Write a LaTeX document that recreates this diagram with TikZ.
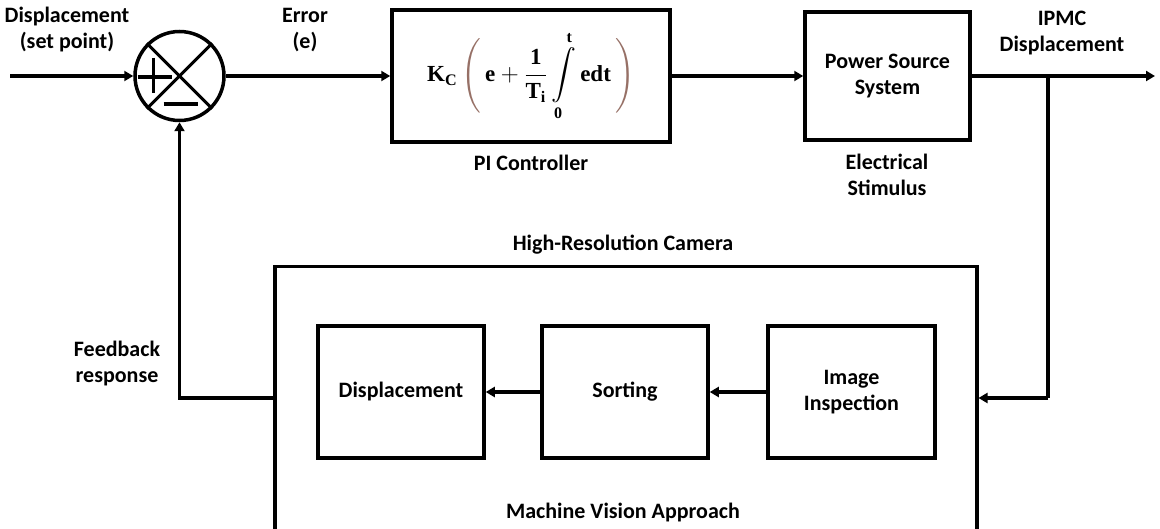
\documentclass[tikz,border=0pt]{standalone}
\usepackage{amsmath}
\usepackage{fontspec}
\setmainfont{Carlito}
\setmathrm{Liberation Serif}
\usetikzlibrary{arrows.meta}
\definecolor{parcol}{RGB}{150,112,102}
\newcommand{\pieqn}{\mbox{\fontsize{23}{27}\selectfont$\displaystyle \mathbf{K}_{\mathbf{C}}\,{\color{parcol}\Bigg(}\,\mathbf{e}+\frac{\mathbf 1}{\mathbf{T}_{\mathbf{i}}}\int\limits_{\mathbf 0}^{\mathbf t}\mathbf{edt}\,{\color{parcol}\Bigg)}$}}
\begin{document}
\begin{tikzpicture}[x=1pt,y=-1pt,
  thick line/.style={line width=3.5pt},
  arr/.style={thick line,-{Triangle[length=9pt,width=10pt]}},
  blk/.style={draw,thick line,rectangle,inner sep=0pt,font=\fontsize{22}{26}\selectfont\bfseries,align=center},
  lbl/.style={font=\fontsize{22}{26}\selectfont\bfseries,align=center,inner sep=0pt}]
\useasboundingbox (0,0) rectangle (1160,529);
\clip (0,0) rectangle (1160,529);
% summing junction
\node[draw,thick line,circle,minimum size=89pt,inner sep=0pt] (sum) at (179.5,76) {};
\draw[line width=3pt] (sum.north west) -- (sum.south east);
\draw[line width=3pt] (sum.north east) -- (sum.south west);
\draw[line width=3.5pt] ([shift={(-42,1)}]sum.center) -- ([shift={(-8,1)}]sum.center);
\draw[line width=3.5pt] ([shift={(-26,-18)}]sum.center) -- ([shift={(-26,17)}]sum.center);
\draw[line width=3.5pt] ([shift={(-16,28)}]sum.center) -- ([shift={(18,28)}]sum.center);
% blocks
\node[blk,minimum width=278pt,minimum height=132pt] (pi) at (531,76) {\pieqn};
\node[blk,minimum width=165pt,minimum height=128pt] (pwr) at (887.5,76) {Power Source\\System};
\node[draw,thick line,rectangle,minimum width=702pt,minimum height=300pt,anchor=north west,inner sep=0pt] (cam) at (273,265) {};
\node[blk,minimum width=166pt,minimum height=132pt] (disp) at (401,392) {Displacement};
\node[blk,minimum width=166pt,minimum height=132pt] (sort) at (625,392) {Sorting};
\node[blk,minimum width=167pt,minimum height=132pt] (insp) at (851.5,392) {Image\\Inspection};
% labels
\node[lbl] (l1) at (67,30) {Displacement\\(set point)};
\node[lbl] (l2) at (305,30) {Error\\(e)};
\node[lbl] (l3) at (531,163) {PI Controller};
\node[lbl] (l4) at (887,175) {Electrical\\Stimulus};
\node[lbl] (l5) at (1062,33) {IPMC\\Displacement};
\node[lbl] (l6) at (623,245) {High-Resolution Camera};
\node[lbl] (l7) at (623,513) {Machine Vision Approach};
\node[lbl] (l8) at (117,364) {Feedback\\response};
% coordinates
\coordinate (in) at (10,76);
\coordinate (out) at (1155,76);
\coordinate (br) at (1048,76);
\coordinate (brb) at (1048,398);
\coordinate (fb) at (179.5,398);
% connectors
\draw[arr] (in) -- (sum.west);
\draw[arr] (sum.east) -- (pi.west);
\draw[arr] (pi.east) -- (pwr.west);
\draw[arr] (pwr.east) -- (out);
\draw[thick line] (br) -- (brb);
\draw[arr] (brb) -- (cam.east |- brb);
\draw[arr] (insp.west) -- (sort.east);
\draw[arr] (sort.west) -- (disp.east);
\draw[arr] (cam.west |- fb) -- (fb) -- (sum.south);
\end{tikzpicture}
\end{document}
